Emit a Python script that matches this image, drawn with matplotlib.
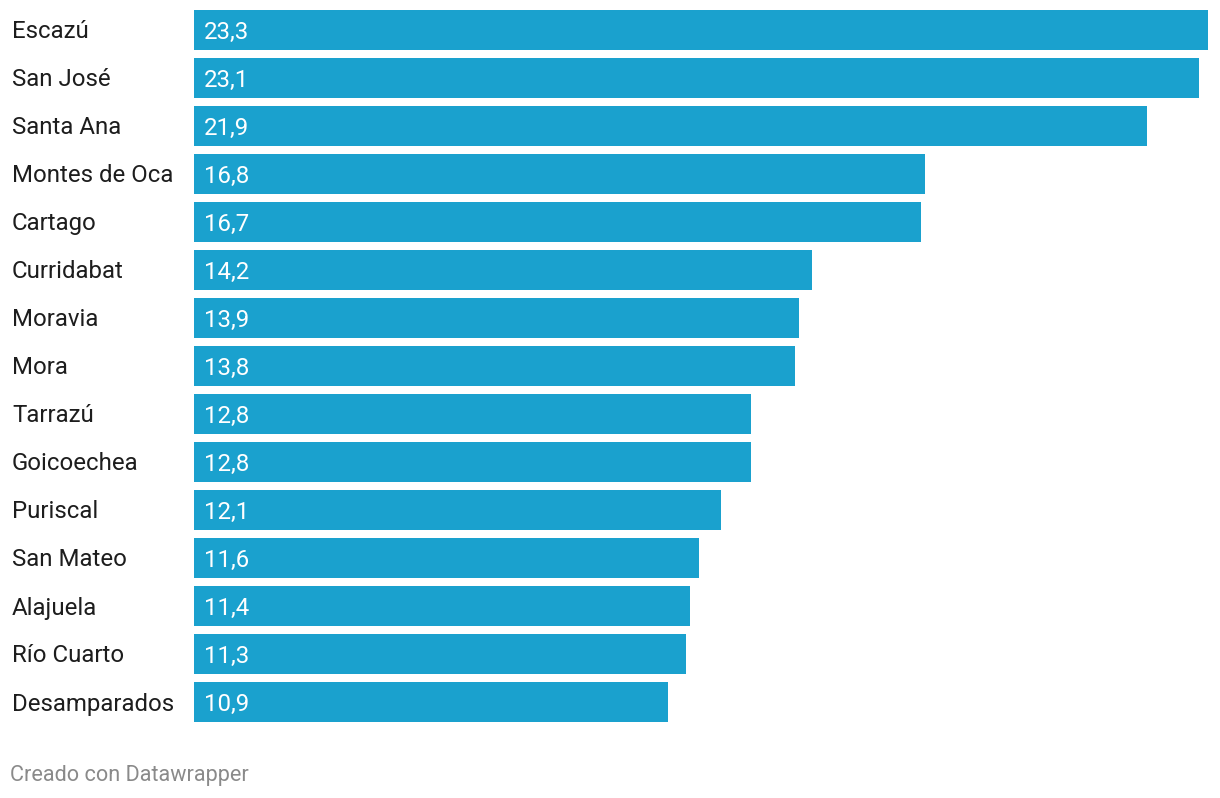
import matplotlib.pyplot as plt
from matplotlib.transforms import blended_transform_factory, offset_copy

plt.rcParams['font.family'] = ['Roboto', 'DejaVu Sans']

cantones = ['Escazú', 'San José', 'Santa Ana', 'Montes de Oca', 'Cartago',
            'Curridabat', 'Moravia', 'Mora', 'Tarrazú', 'Goicoechea',
            'Puriscal', 'San Mateo', 'Alajuela', 'Río Cuarto', 'Desamparados']
valores = [23.3, 23.1, 21.9, 16.8, 16.7, 14.2, 13.9, 13.8, 12.8, 12.8,
           12.1, 11.6, 11.4, 11.3, 10.9]

W, H = 1220, 798
fig = plt.figure(figsize=(W / 100, H / 100), dpi=100)
bar_h = 40 / 48
ax = fig.add_axes([194 / W, (H - 722) / H, 1014 / W, 712 / H])

pos = list(range(len(cantones)))
ax.barh(pos, valores, height=bar_h, color='#1aa1ce')
ax.set_xlim(0, max(valores))
ax.set_ylim(len(cantones) - 1 + bar_h / 2, -bar_h / 2)
ax.axis('off')

# category labels at the left edge of the figure
trans = offset_copy(blended_transform_factory(fig.transFigure, ax.transData),
                    fig=fig, x=0, y=-2, units='dots')
for i, name in enumerate(cantones):
    ax.text(12 / W, i, name, transform=trans, ha='left', va='center',
            fontsize=17.3, color='#1d1d1d')

# value labels inside bars
vtrans = offset_copy(ax.transData, fig=fig, x=10, y=-2, units='dots')
for i, v in enumerate(valores):
    ax.text(0, i, f'{v:.1f}'.replace('.', ','), transform=vtrans,
            ha='left', va='center', fontsize=17.3, color='white')

fig.text(10 / W, 1 - 775 / H, 'Creado con Datawrapper', ha='left',
         va='center', fontsize=15.6, color='#8a8a8a')

fig.savefig('out.png', dpi=100)
